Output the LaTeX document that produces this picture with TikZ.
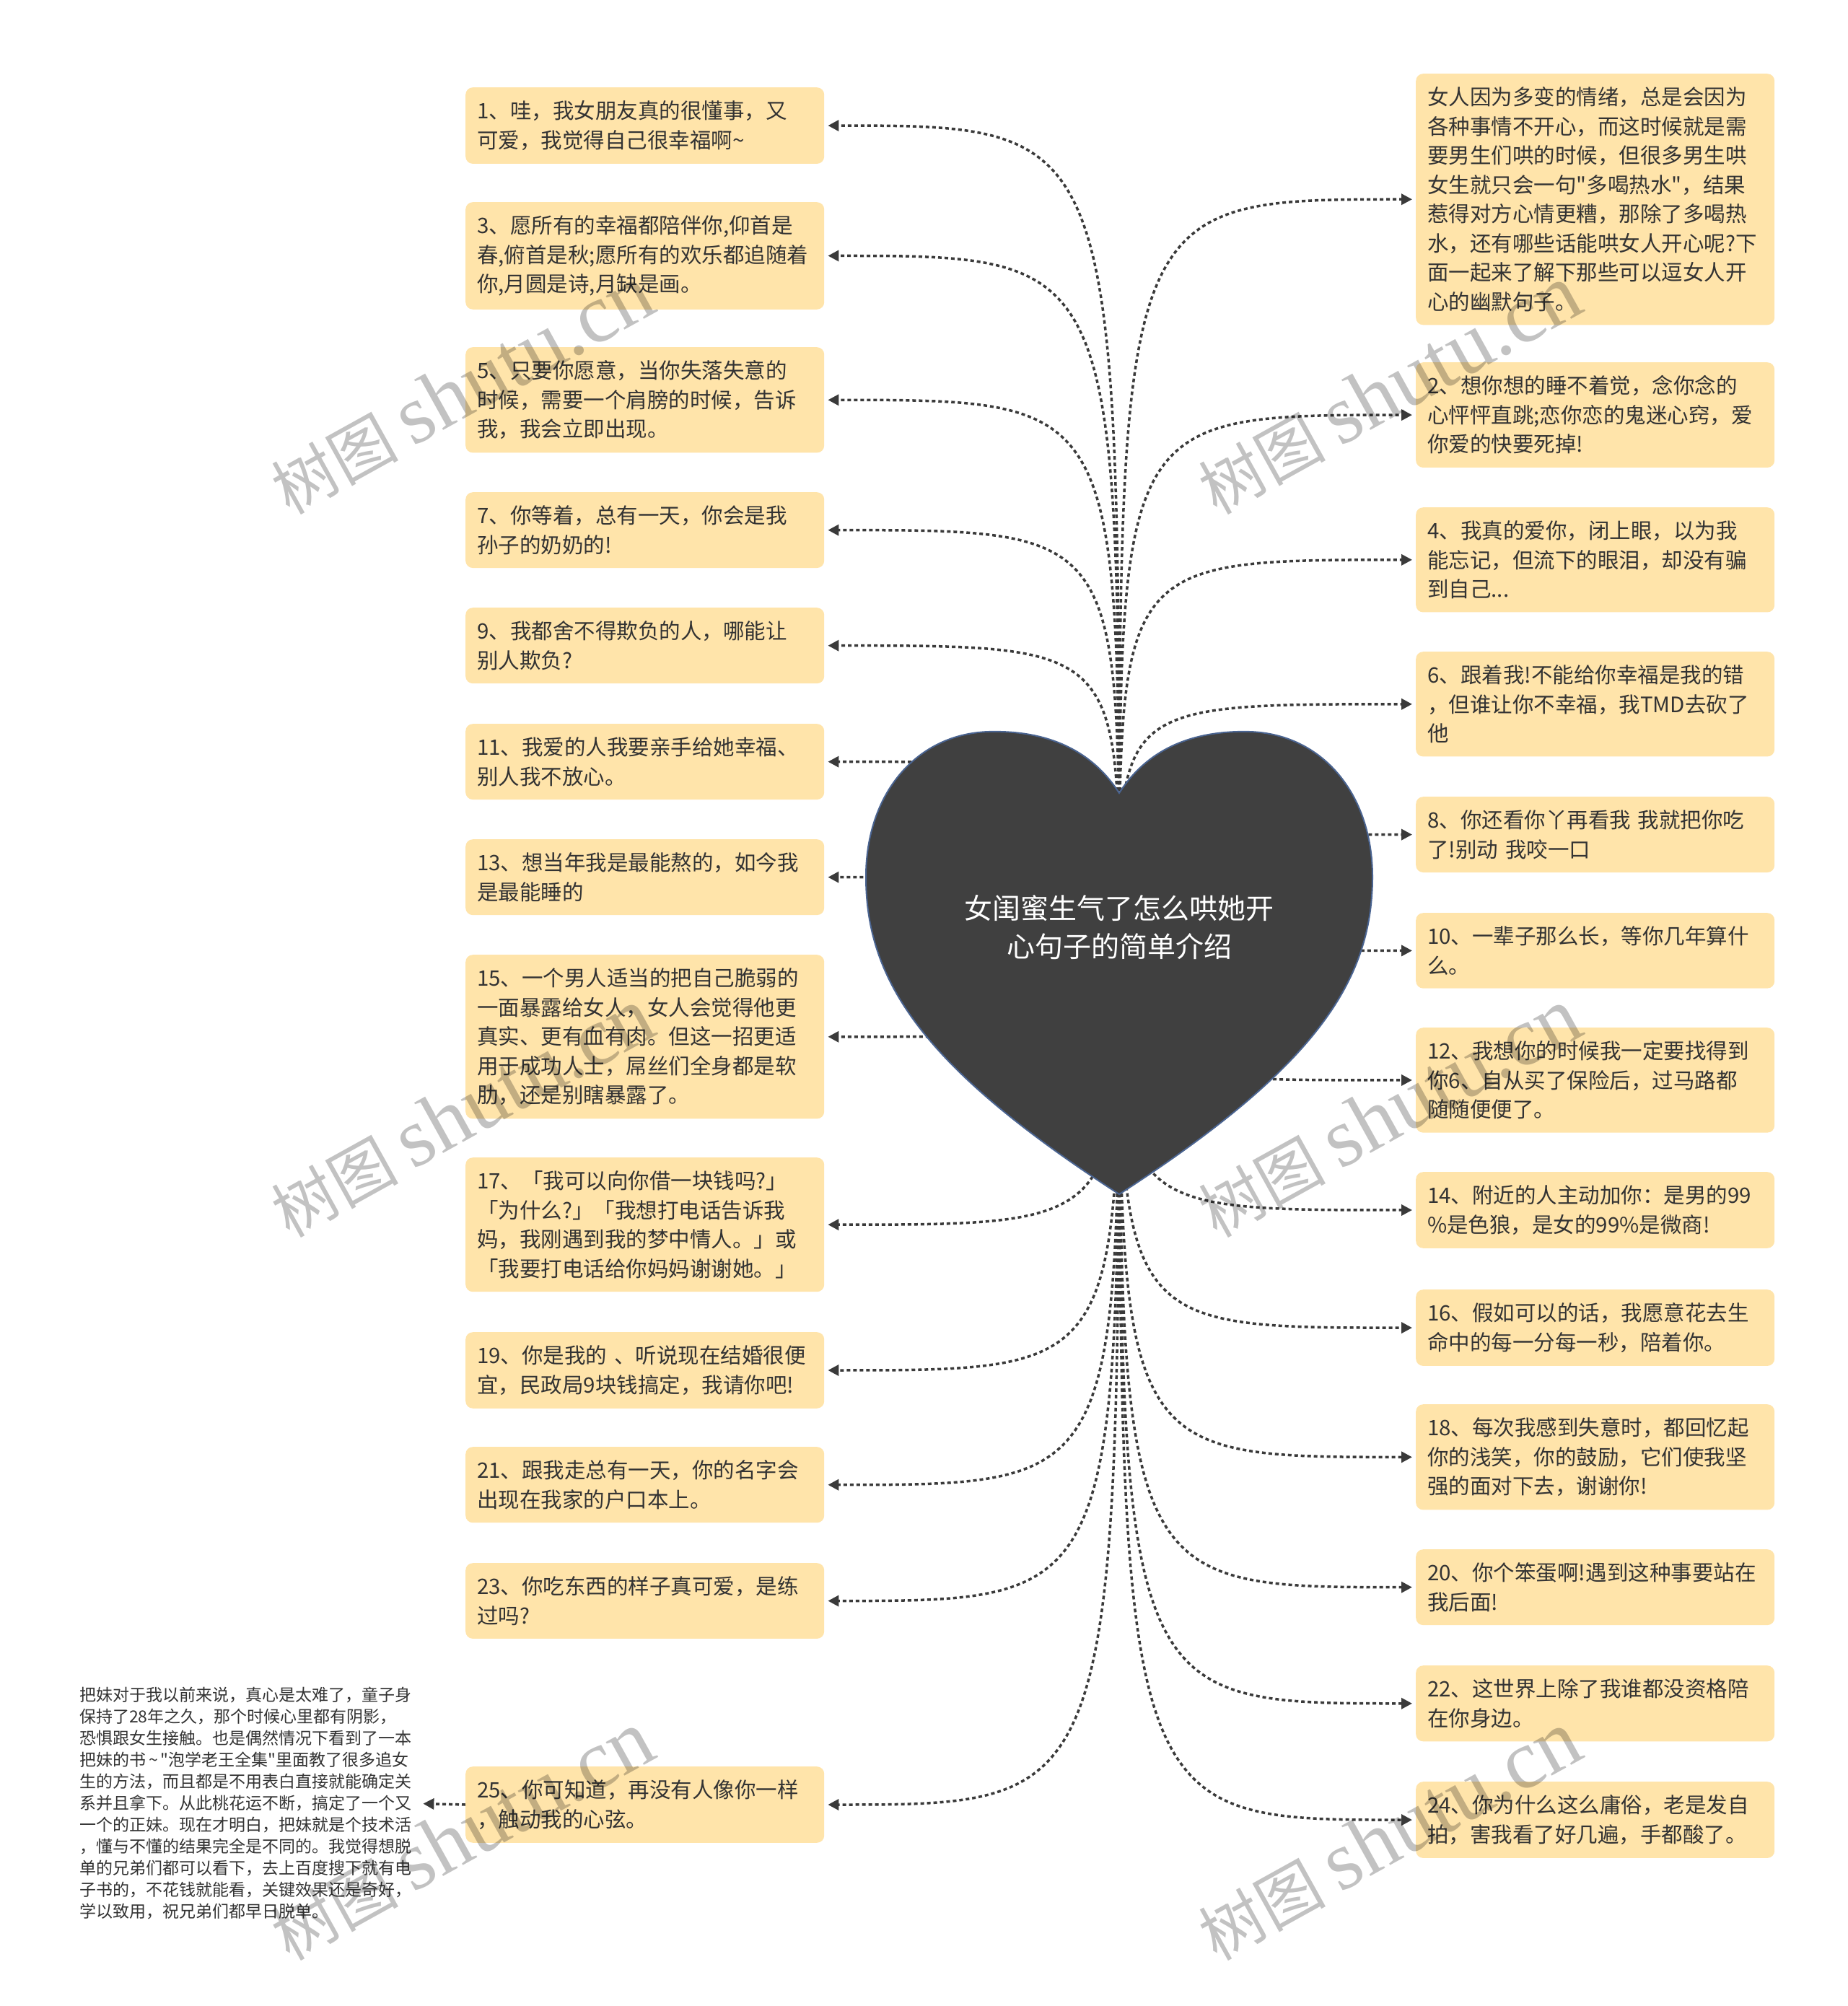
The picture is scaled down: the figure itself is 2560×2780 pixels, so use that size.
\documentclass[tikz,border=0pt]{standalone}
\usepackage{fontspec}
\setmainfont{Noto Sans CJK SC}[Ligatures=TeXOff]
\newfontfamily\wmlatin{Liberation Serif}
\usetikzlibrary{arrows.meta}
\pgfdeclarelayer{background}
\pgfsetlayers{background,main}

\definecolor{boxfill}{HTML}{FFE4AA}
\definecolor{boxtext}{HTML}{333333}
\definecolor{heartfill}{HTML}{404040}
\definecolor{heartline}{HTML}{4A6491}
\definecolor{linkcol}{HTML}{3A3A3A}

\tikzset{
  idea/.style={fill=boxfill, rounded corners=10pt, text=boxtext, anchor=north west,
    text width=465pt, inner xsep=16pt, inner ysep=18.5pt, align=left,
    font=\fontsize{29.5}{40.5}\selectfont},
  link/.style={draw=linkcol, line width=3.5pt, dash pattern=on 5pt off 4pt,
    -{Triangle[length=15pt,width=15pt]}, shorten >=5pt},
  wmark/.style={text=black, text opacity=0.24, rotate=29, inner sep=0pt},
}

\begin{document}
\begin{tikzpicture}[x=1pt,y=-1pt]
\useasboundingbox (0,0) rectangle (2560,2780);

% centre
\node[text=white, align=center, font=\fontsize{39}{53}\selectfont] (root) at (1551,1285) {女闺蜜生气了怎么哄她开\\心句子的简单介绍};

% left column
\node[idea] (b1) at (645,121) {1、哇，我女朋友真的很懂事，又\\可爱，我觉得自己很幸福啊\textasciitilde};
\node[idea] (b3) at (645,280) {3、愿所有的幸福都陪伴你,仰首是\\春,俯首是秋;愿所有的欢乐都追随着\\你,月圆是诗,月缺是画。};
\node[idea] (b5) at (645,481) {5、只要你愿意，当你失落失意的\\时候，需要一个肩膀的时候，告诉\\我，我会立即出现。};
\node[idea] (b7) at (645,682) {7、你等着，总有一天，你会是我\\孙子的奶奶的!};
\node[idea] (b9) at (645,842) {9、我都舍不得欺负的人，哪能让\\别人欺负?};
\node[idea] (b11) at (645,1003) {11、我爱的人我要亲手给她幸福、\\别人我不放心。};
\node[idea] (b13) at (645,1163) {13、想当年我是最能熬的，如今我\\是最能睡的};
\node[idea] (b15) at (645,1323) {15、一个男人适当的把自己脆弱的\\一面暴露给女人，女人会觉得他更\\真实、更有血有肉。但这一招更适\\用于成功人士，屌丝们全身都是软\\肋，还是别瞎暴露了。};
\node[idea] (b17) at (645,1604) {17、「我可以向你借一块钱吗?」\\「为什么?」「我想打电话告诉我\\妈，我刚遇到我的梦中情人。」或\\「我要打电话给你妈妈谢谢她。」};
\node[idea] (b19) at (645,1846) {19、你是我的 、听说现在结婚很便\\宜，民政局9块钱搞定，我请你吧!};
\node[idea] (b21) at (645,2005) {21、跟我走总有一天，你的名字会\\出现在我家的户口本上。};
\node[idea] (b23) at (645,2166) {23、你吃东西的样子真可爱，是练\\过吗?};
\node[idea] (b25) at (645,2448) {25、你可知道，再没有人像你一样\\，触动我的心弦。};

% right column
\node[idea] (b0) at (1962,102) {女人因为多变的情绪，总是会因为\\各种事情不开心，而这时候就是需\\要男生们哄的时候，但很多男生哄\\女生就只会一句"多喝热水"，结果\\惹得对方心情更糟，那除了多喝热\\水，还有哪些话能哄女人开心呢?下\\面一起来了解下那些可以逗女人开\\心的幽默句子。};
\node[idea] (b2) at (1962,502) {2、想你想的睡不着觉，念你念的\\心怦怦直跳;恋你恋的鬼迷心窍，爱\\你爱的快要死掉!};
\node[idea] (b4) at (1962,703) {4、我真的爱你，闭上眼，以为我\\能忘记，但流下的眼泪，却没有骗\\到自己...};
\node[idea] (b6) at (1962,903) {6、跟着我!不能给你幸福是我的错\\，但谁让你不幸福，我TMD去砍了\\他};
\node[idea] (b8) at (1962,1104) {8、你还看你丫再看我 我就把你吃\\了!别动 我咬一口};
\node[idea] (b10) at (1962,1265) {10、一辈子那么长，等你几年算什\\么。};
\node[idea] (b12) at (1962,1424) {12、我想你的时候我一定要找得到\\你6、自从买了保险后，过马路都\\随随便便了。};
\node[idea] (b14) at (1962,1624) {14、附近的人主动加你：是男的99\\\%是色狼，是女的99\%是微商!};
\node[idea] (b16) at (1962,1787) {16、假如可以的话，我愿意花去生\\命中的每一分每一秒，陪着你。};
\node[idea] (b18) at (1962,1946) {18、每次我感到失意时，都回忆起\\你的浅笑，你的鼓励，它们使我坚\\强的面对下去，谢谢你!};
\node[idea] (b20) at (1962,2147) {20、你个笨蛋啊!遇到这种事要站在\\我后面!};
\node[idea] (b22) at (1962,2308) {22、这世界上除了我谁都没资格陪\\在你身边。};
\node[idea] (b24) at (1962,2469) {24、你为什么这么庸俗，老是发自\\拍，害我看了好几遍，手都酸了。};

% note beside 25
\node[anchor=north west, inner sep=0pt, align=left, text=boxtext, font=\fontsize{23}{30}\selectfont] (note) at (110,2338) {把妹对于我以前来说，真心是太难了，童子身\\保持了28年之久，那个时候心里都有阴影，\\恐惧跟女生接触。也是偶然情况下看到了一本\\把妹的书\,\textasciitilde\,"泡学老王全集"里面教了很多追女\\生的方法，而且都是不用表白直接就能确定关\\系并且拿下。从此桃花运不断，搞定了一个又\\一个的正妹。现在才明白，把妹就是个技术活\\，懂与不懂的结果完全是不同的。我觉得想脱\\单的兄弟们都可以看下，去上百度搜下就有电\\子书的，不花钱就能看，关键效果还是奇好，\\学以致用，祝兄弟们都早日脱单。};

\begin{pgfonlayer}{background}
\fill[white] (0,0) rectangle (2560,2780);
% links
\draw[link] (root.center) .. controls (root.center |- b1.east) .. (b1.east);
\draw[link] (root.center) .. controls (root.center |- b3.east) .. (b3.east);
\draw[link] (root.center) .. controls (root.center |- b5.east) .. (b5.east);
\draw[link] (root.center) .. controls (root.center |- b7.east) .. (b7.east);
\draw[link] (root.center) .. controls (root.center |- b9.east) .. (b9.east);
\draw[link] (root.center) .. controls (root.center |- b11.east) .. (b11.east);
\draw[link] (root.center) .. controls (root.center |- b13.east) .. (b13.east);
\draw[link] (root.center) .. controls (root.center |- b15.east) .. (b15.east);
\draw[link] (root.center) .. controls (root.center |- b17.east) .. (b17.east);
\draw[link] (root.center) .. controls (root.center |- b19.east) .. (b19.east);
\draw[link] (root.center) .. controls (root.center |- b21.east) .. (b21.east);
\draw[link] (root.center) .. controls (root.center |- b23.east) .. (b23.east);
\draw[link] (root.center) .. controls (root.center |- b25.east) .. (b25.east);
\draw[link] (root.center) .. controls (root.center |- b0.west) .. (b0.west);
\draw[link] (root.center) .. controls (root.center |- b2.west) .. (b2.west);
\draw[link] (root.center) .. controls (root.center |- b4.west) .. (b4.west);
\draw[link] (root.center) .. controls (root.center |- b6.west) .. (b6.west);
\draw[link] (root.center) .. controls (root.center |- b8.west) .. (b8.west);
\draw[link] (root.center) .. controls (root.center |- b10.west) .. (b10.west);
\draw[link] (root.center) .. controls (root.center |- b12.west) .. (b12.west);
\draw[link] (root.center) .. controls (root.center |- b14.west) .. (b14.west);
\draw[link] (root.center) .. controls (root.center |- b16.west) .. (b16.west);
\draw[link] (root.center) .. controls (root.center |- b18.west) .. (b18.west);
\draw[link] (root.center) .. controls (root.center |- b20.west) .. (b20.west);
\draw[link] (root.center) .. controls (root.center |- b22.west) .. (b22.west);
\draw[link] (root.center) .. controls (root.center |- b24.west) .. (b24.west);
\draw[link, shorten >=16pt] (b25.west) -- (note.east);
% heart
\filldraw[fill=heartfill, draw=heartline, line width=2pt]
  (1551,1099) .. controls (1510,1035) and (1445,1012) .. (1370,1014)
  .. controls (1270,1017) and (1200,1100) .. (1200,1215)
  .. controls (1200,1360) and (1280,1480) .. (1551,1655)
  .. controls (1822,1480) and (1902,1360) .. (1902,1215)
  .. controls (1902,1100) and (1832,1017) .. (1732,1014)
  .. controls (1657,1012) and (1592,1035) .. (1551,1099) -- cycle;
\end{pgfonlayer}

% watermarks
\node[wmark] (wm1) at (640,540) {\fontsize{88}{88}\selectfont 树图 {\wmlatin\fontsize{116}{116}\selectfont shutu.cn}};
\node[wmark] (wm2) at (640,1542) {\fontsize{88}{88}\selectfont 树图 {\wmlatin\fontsize{116}{116}\selectfont shutu.cn}};
\node[wmark] (wm3) at (640,2544) {\fontsize{88}{88}\selectfont 树图 {\wmlatin\fontsize{116}{116}\selectfont shutu.cn}};
\node[wmark] (wm4) at (1925,540) {\fontsize{88}{88}\selectfont 树图 {\wmlatin\fontsize{116}{116}\selectfont shutu.cn}};
\node[wmark] (wm5) at (1925,1542) {\fontsize{88}{88}\selectfont 树图 {\wmlatin\fontsize{116}{116}\selectfont shutu.cn}};
\node[wmark] (wm6) at (1925,2544) {\fontsize{88}{88}\selectfont 树图 {\wmlatin\fontsize{116}{116}\selectfont shutu.cn}};
\end{tikzpicture}
\end{document}
